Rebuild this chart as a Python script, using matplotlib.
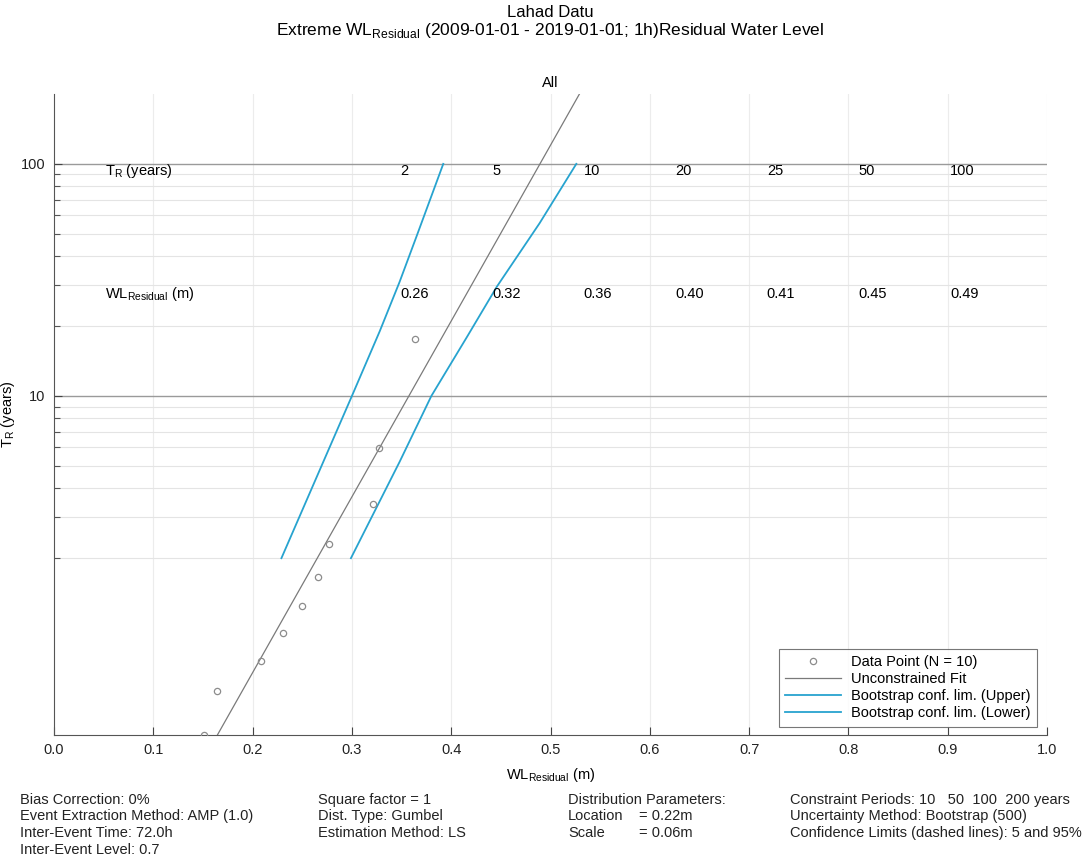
import numpy as np
import matplotlib.pyplot as plt

plt.rcParams['font.family'] = ['Liberation Sans', 'DejaVu Sans']
plt.rcParams['mathtext.fontset'] = 'custom'
plt.rcParams['mathtext.rm'] = 'Liberation Sans'

# data
point_wl = [0.151, 0.1645, 0.208, 0.231, 0.250, 0.266, 0.277, 0.3216, 0.327, 0.3635]
point_T = [0.346, 0.535, 0.723, 0.954, 1.248, 1.664, 2.30, 3.42, 5.99, 17.6]

fit_wl = [0.1645, 0.5297]
fit_T = [0.346, 202]

upper_T = [2, 10, 19, 31, 48.6, 100]
upper_wl = [0.229, 0.300, 0.328, 0.348, 0.365, 0.392]

lower_T = [2, 5.2, 10, 18, 29.6, 55.5, 100]
lower_wl = [0.299, 0.348, 0.380, 0.416, 0.446, 0.489, 0.526]

table_T = ['2', '5', '10', '20', '25', '50', '100']
table_wl = ['0.26', '0.32', '0.36', '0.40', '0.41', '0.45', '0.49']

WL = r'WL$_{\mathregular{Residual}}$'
TR = r'T$_{\mathregular{R}}$'
cyan = '#27a3cf'
fs = 10.5

fig = plt.figure(figsize=(10.87, 8.6), dpi=100)
ax = fig.add_axes([0.0497, 0.1453, 0.9135, 0.7454])

ax.set_yscale('log')
ax.set_xlim(0, 1)
ax.set_ylim(0.346, 200)

# grid
for x in np.arange(0.1, 1.01, 0.1):
    ax.axvline(x, color='#ececec', lw=0.8, zorder=0)
minor = [2, 3, 4, 5, 6, 7, 8, 9, 20, 30, 40, 50, 60, 70, 80, 90]
for y in minor:
    ax.axhline(y, color='#e4e4e4', lw=0.8, zorder=0)
for y in [10, 100]:
    ax.axhline(y, color='#9a9a9a', lw=1.0, zorder=0)

ax.plot(point_wl, point_T, 'o', mfc='none', mec='#8c8c8c', ms=4.5, mew=0.9,
        label='Data Point (N = 10)', zorder=3)
ax.plot(fit_wl, fit_T, color='#7a7a7a', lw=0.9, label='Unconstrained Fit')
ax.plot(upper_wl, upper_T, color=cyan, lw=1.3, label='Bootstrap conf. lim. (Upper)')
ax.plot(lower_wl, lower_T, color=cyan, lw=1.3, label='Bootstrap conf. lim. (Lower)')

# return-period table
ax.text(0.051, 93, TR + ' (years)', fontsize=fs, va='center')
ax.text(0.051, 27.5, WL + ' (m)', fontsize=fs, va='center')
for i, (t, v) in enumerate(zip(table_T, table_wl)):
    xx = 0.349 + 0.0922 * i
    ax.text(xx, 93, t, fontsize=fs, va='center')
    ax.text(xx, 27.5, v, fontsize=fs, va='center')

ax.set_yticks([10, 100])
ax.set_yticklabels(['10', '100'])
ax.set_yticks(minor, minor=True)
ax.yaxis.set_minor_formatter(plt.NullFormatter())
ax.set_xticks(np.round(np.arange(0, 1.01, 0.1), 1))
ax.set_xticklabels(['%.1f' % v for v in np.arange(0, 1.01, 0.1)])
ax.tick_params(direction='in', labelsize=fs, labelcolor='#222222', colors='#444444',
               length=6, width=0.8, pad=6)
ax.tick_params(which='minor', direction='in', length=4, width=0.8, colors='#555555')
for s in ['top', 'right']:
    ax.spines[s].set_visible(False)
for s in ['left', 'bottom']:
    ax.spines[s].set_color('#555555')

ax.set_xlabel(WL + ' (m)', fontsize=fs, labelpad=6)
ax.set_ylabel(TR + ' (years)', fontsize=fs)
ax.yaxis.set_label_coords(-0.037, 0.5)
ax.set_title('All', fontsize=fs, pad=5)

fig.text(0.506, 0.985, 'Lahad Datu', ha='center', va='center', fontsize=12)
fig.text(0.506, 0.965, 'Extreme ' + WL + ' (2009-01-01 - 2019-01-01; 1h)Residual Water Level',
         ha='center', va='center', fontsize=12.5)

leg = ax.legend(loc='lower right', fontsize=fs, frameon=True, fancybox=False,
                edgecolor='#555555', borderpad=0.45, labelspacing=0.2,
                handlelength=3.8, handletextpad=0.7, borderaxespad=0,
                bbox_to_anchor=(0.99, 0.013))
leg.get_frame().set_linewidth(0.8)

# info block
y0, dy = 0.0698, 0.0192
col1 = ['Bias Correction: 0%', 'Event Extraction Method: AMP (1.0)',
        'Inter-Event Time: 72.0h', 'Inter-Event Level: 0.7']
col2 = ['Square factor = 1', 'Dist. Type: Gumbel', 'Estimation Method: LS']
col3a = ['Distribution Parameters:', 'Location', 'Scale']
col3b = ['', '= 0.22m', '= 0.06m']
col4 = ['Constraint Periods: 10   50  100  200 years', 'Uncertainty Method: Bootstrap (500)',
        'Confidence Limits (dashed lines): 5 and 95%']
for xc, lines in [(0.018, col1), (0.2925, col2), (0.5225, col3a), (0.588, col3b), (0.727, col4)]:
    for j, line in enumerate(lines):
        fig.text(xc, y0 - j * dy, line, fontsize=fs, va='center', color='#222222')

fig.savefig('out.png', dpi=100)
